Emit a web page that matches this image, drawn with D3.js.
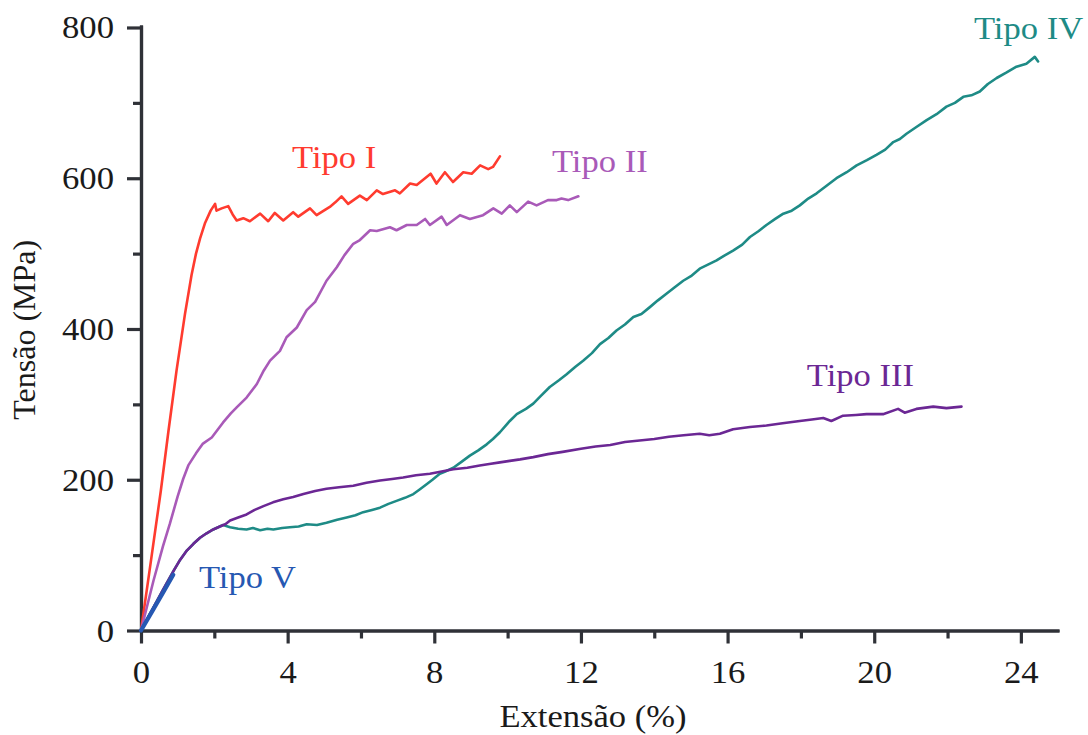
<!DOCTYPE html>
<html><head><meta charset="utf-8">
<script src="https://cdn.jsdelivr.net/npm/d3@7"></script>
<style>body{margin:0;background:#fff}</style>
</head><body>
<svg id="chart" width="1088" height="735"></svg>
<script>
// ---------- DATA ----------
const xMajorTicks = [0, 4, 8, 12, 16, 20, 24];
const xMinorTicks = [2, 6, 10, 14, 18, 22];
const yMajorTicks = [0, 200, 400, 600, 800];
const yMinorTicks = [100, 300, 500, 700];
const xTitle = "Extensão (%)";
const yTitle = "Tensão (MPa)";

const tipoI = [[0,0],[0.25,85],[0.54,185],[0.75,265],[0.97,345],[1.2,420],[1.38,472],[1.5,500],[1.61,520],[1.75,541],[1.9,557],[2.02,566],[2.06,557],[2.2,560],[2.38,563],[2.5,552],[2.61,544],[2.79,547],[2.97,543],[3.25,553],[3.47,543],[3.65,554],[3.88,544],[4.15,555],[4.29,549],[4.61,560],[4.79,551],[5.15,562],[5.3,568],[5.47,576],[5.65,566],[5.97,577],[6.16,571],[6.43,584],[6.6,579],[6.93,584],[7.06,580],[7.34,593],[7.52,591],[7.9,606],[8.06,593],[8.29,608],[8.51,595],[8.79,608],[9.02,606],[9.25,617],[9.47,612],[9.6,615],[9.79,629]];

const tipoII = [[0,0],[0.34,66],[0.6,112],[0.79,142],[1.0,178],[1.15,201],[1.29,219],[1.5,235],[1.69,248],[1.93,256],[2.1,267],[2.24,276],[2.45,288],[2.61,296],[2.88,309],[3.16,327],[3.35,345],[3.52,358],[3.79,371],[3.97,389],[4.25,402],[4.52,425],[4.75,436],[5.06,464],[5.34,482],[5.55,498],[5.79,513],[5.97,518],[6.25,531],[6.43,530],[6.79,535],[6.97,531],[7.25,538],[7.52,538],[7.75,546],[7.88,538],[8.2,549],[8.34,538],[8.7,551],[8.97,546],[9.33,551],[9.61,560],[9.84,553],[10.06,564],[10.25,555],[10.56,569],[10.79,564],[11.1,571],[11.34,571],[11.47,573],[11.65,571],[11.93,576]];

const tipoIII = [[0,0],[0.3,27],[0.6,54],[0.9,80],[1.07,94],[1.25,106],[1.43,115],[1.61,123],[1.79,129],[1.97,134],[2.15,138],[2.3,141],[2.43,146],[2.65,150],[2.88,154],[3.1,160],[3.34,165],[3.6,170],[3.88,174],[4.15,177],[4.43,181],[4.75,185],[5.06,188],[5.4,190],[5.79,192],[6.15,196],[6.52,199],[6.85,201],[7.15,203],[7.5,206],[7.88,208],[8.2,211],[8.52,214],[8.9,216],[9.24,219],[9.5,221],[9.79,223],[10.06,225],[10.34,227],[10.7,230],[11.1,234],[11.5,237],[12.0,241],[12.4,244],[12.8,246],[13.2,250],[13.6,252],[14.0,254],[14.4,257],[14.8,259],[15.24,261],[15.5,259],[15.79,261],[16.15,267],[16.61,270],[17.06,272],[17.5,275],[17.97,278],[18.3,280],[18.61,282],[18.83,278],[19.15,285],[19.5,286],[19.79,287],[20.24,287],[20.65,294],[20.83,289],[21.15,294],[21.61,297],[21.97,295],[22.38,297]];

const tipoIV = [[0,0],[0.3,27],[0.6,54],[0.9,80],[1.07,94],[1.25,106],[1.43,115],[1.61,123],[1.79,129],[1.97,134],[2.15,138],[2.24,140],[2.43,137],[2.65,135],[2.88,134],[3.05,136],[3.25,133],[3.45,135],[3.61,134],[3.85,136],[4.06,137],[4.3,138],[4.52,141],[4.8,140],[5.06,143],[5.35,147],[5.61,150],[5.85,153],[6.06,157],[6.3,160],[6.52,163],[6.75,168],[6.97,172],[7.2,176],[7.43,181],[7.6,187],[7.79,194],[7.95,200],[8.15,208],[8.3,211],[8.52,216],[8.75,224],[8.97,232],[9.2,239],[9.43,247],[9.6,254],[9.79,263],[10.06,278],[10.25,287],[10.5,294],[10.7,301],[10.9,311],[11.15,323],[11.4,332],[11.61,340],[11.85,350],[12.06,358],[12.3,368],[12.52,380],[12.75,388],[12.97,398],[13.2,406],[13.43,416],[13.65,420],[13.88,429],[14.1,438],[14.34,447],[14.55,455],[14.79,464],[15.0,470],[15.24,480],[15.45,485],[15.7,491],[15.9,497],[16.15,504],[16.4,512],[16.61,522],[16.85,530],[17.06,538],[17.3,546],[17.52,553],[17.75,557],[17.97,564],[18.2,573],[18.43,580],[18.7,590],[18.97,600],[19.25,608],[19.52,617],[19.8,624],[20.06,631],[20.3,638],[20.52,648],[20.7,652],[20.88,659],[21.15,668],[21.43,677],[21.7,685],[21.97,695],[22.2,700],[22.43,708],[22.65,710],[22.88,715],[23.1,725],[23.34,733],[23.6,740],[23.88,748],[24.15,752],[24.38,761],[24.47,755]];

const tipoV = [[0,0],[0.3,25],[0.6,50],[0.88,74]];

const seriesNames = ["Tipo I", "Tipo II", "Tipo IV", "Tipo III", "Tipo V"];
const seriesColors = ["#ff3b2f", "#a95ab8", "#1e8b86", "#6b2794", "#2658b2"];
const seriesWidths = [2.6, 2.6, 2.6, 2.6, 4.2];
// label anchor positions (data coords: x, y at text baseline)
const labelX = [4.12, 11.21, 22.72, 18.16, 1.58];
const labelY = [614, 608, 785, 324, 56];

// ---------- CHART ----------
const svg = d3.select("#chart");
const x = d3.scaleLinear().domain([0, 25.04]).range([141, 1059]);
const y = d3.scaleLinear().domain([0, 803.3]).range([630.5, 25]);
const axisColor = "#2f3137";
const FONT = "'Liberation Serif','Times New Roman',serif";

const seriesData = [tipoI, tipoII, tipoIV, tipoIII, tipoV];
const line = d3.line().x(d => x(d[0])).y(d => y(d[1]));

// axes
const xAxisMajor = d3.axisBottom(x).tickValues(xMajorTicks).tickSize(13).tickSizeOuter(0).tickFormat(d3.format("d"));
const xAxisMinor = d3.axisBottom(x).tickValues(xMinorTicks).tickSize(8).tickSizeOuter(0).tickFormat("");
const yAxisMajor = d3.axisLeft(y).tickValues(yMajorTicks).tickSize(14).tickSizeOuter(0).tickFormat(d3.format("d"));
const yAxisMinor = d3.axisLeft(y).tickValues(yMinorTicks).tickSize(8).tickSizeOuter(0).tickFormat("");

function styleAxis(g){
  g.selectAll("path.domain").attr("stroke", axisColor).attr("stroke-width", 3.2);
  g.selectAll(".tick line").attr("stroke", axisColor).attr("stroke-width", 3.2);
}

const gx = svg.append("g").attr("transform", `translate(0,${y(0)})`);
gx.append("g").call(xAxisMinor).call(styleAxis);
const gxM = gx.append("g").call(xAxisMajor).call(styleAxis);
gxM.selectAll(".tick text")
  .attr("y", 0).attr("dy", null)
  .attr("transform", "translate(0,52) scale(1.12,1)")
  .attr("font-family", FONT).attr("font-size", 31).attr("fill", "#1a1a1a");

const gy = svg.append("g").attr("transform", `translate(${x(0)},0)`);
gy.append("g").call(yAxisMinor).call(styleAxis);
const gyM = gy.append("g").call(yAxisMajor).call(styleAxis);
gyM.selectAll(".tick text")
  .attr("x", 0).attr("dy", null)
  .attr("transform", "translate(-27,10.5) scale(1.12,1)")
  .attr("text-anchor", "end")
  .attr("font-family", FONT).attr("font-size", 31).attr("fill", "#1a1a1a");
svg.selectAll("path.domain").attr("fill", "none");

// axis titles
svg.append("text")
  .attr("transform", `translate(${(x(0)+x(25.04))/2 - 7},727) scale(1.08,1)`)
  .attr("text-anchor", "middle")
  .attr("font-family", FONT).attr("font-size", 32).attr("fill", "#1a1a1a")
  .text(xTitle);
svg.append("text")
  .attr("transform", `translate(35,${(y(0)+y(803.3))/2 + 2}) rotate(-90)`)
  .attr("text-anchor", "middle")
  .attr("font-family", FONT).attr("font-size", 32).attr("fill", "#1a1a1a")
  .text(yTitle);

// lines
svg.append("g").selectAll("path.series")
  .data(seriesData)
  .join("path")
  .attr("class", "series")
  .attr("d", d => line(d))
  .attr("fill", "none")
  .attr("stroke", (d, i) => seriesColors[i])
  .attr("stroke-width", (d, i) => seriesWidths[i])
  .attr("stroke-linejoin", "round")
  .attr("stroke-linecap", "round");

// labels
svg.append("g").selectAll("text")
  .data(seriesNames)
  .join("text")
  .attr("transform", (d, i) => `translate(${x(labelX[i])},${y(labelY[i])}) scale(1.08,1)`)
  .attr("font-family", FONT).attr("font-size", 32)
  .attr("fill", (d, i) => seriesColors[i])
  .text(d => d);
</script>
</body></html>
